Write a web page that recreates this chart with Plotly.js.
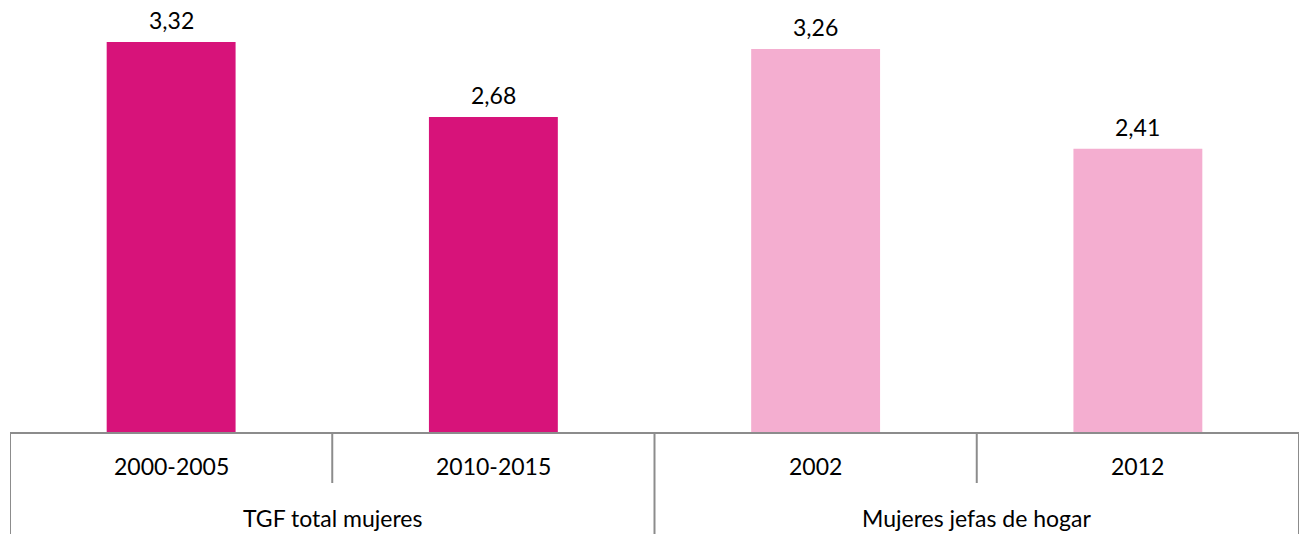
<!DOCTYPE html>
<html>
<head>
<meta charset="utf-8">
<script src="https://cdn.plot.ly/plotly-3.0.1.min.js"></script>
<style>html,body{margin:0;padding:0;background:#fff;}#chart{width:1305px;height:534px;}</style>
</head>
<body>
<div id="chart"></div>
<script>
const categories = ['2000-2005', '2010-2015', '2002', '2012'];
const values = [3.32, 2.68, 3.26, 2.41];
const groups = ['TGF total mujeres', 'TGF total mujeres', 'Mujeres jefas de hogar', 'Mujeres jefas de hogar'];
const groupLabels = ['TGF total mujeres', 'Mujeres jefas de hogar'];

const groupColors = {'TGF total mujeres': '#D7137A', 'Mujeres jefas de hogar': '#F4AED0'};
const FONT = 'Lato, "Open Sans", sans-serif';
const plotH = 432;
const toPaper = py => -(py - plotH) / plotH; // pixel y -> paper y

const trace = {
  type: 'bar',
  x: categories,
  y: values,
  width: 0.4,
  marker: {color: groups.map(g => groupColors[g])},
  hoverinfo: 'x+y',
  showlegend: false
};

const annotations = [];
categories.forEach((c, i) => {
  annotations.push({
    x: i, y: values[i], xref: 'x', yref: 'y',
    text: values[i].toFixed(2).replace('.', ','),
    showarrow: false, yanchor: 'middle', yshift: 22,
    font: {family: FONT, size: 23, color: '#000'}
  });
  annotations.push({
    x: i, y: toPaper(466), xref: 'x', yref: 'paper',
    text: c, showarrow: false, yanchor: 'middle',
    font: {family: FONT, size: 23, color: '#000'}
  });
});
groupLabels.forEach((g, gi) => {
  annotations.push({
    x: 0.5 + gi * 2, y: toPaper(518), xref: 'x', yref: 'paper',
    text: g, showarrow: false, yanchor: 'middle',
    font: {family: FONT, size: 23, color: '#000'}
  });
});

const lineStyle = {color: '#8c8c8c', width: 2};
const shapes = [];
[-0.5, 1.5, 3.5].forEach(x => shapes.push({type: 'line', xref: 'x', yref: 'paper', x0: x, x1: x, y0: 0, y1: toPaper(540), line: lineStyle}));
[0.5, 2.5].forEach(x => shapes.push({type: 'line', xref: 'x', yref: 'paper', x0: x, x1: x, y0: 0, y1: toPaper(483), line: lineStyle}));

const layout = {
  width: 1305, height: 534,
  margin: {l: 10, r: 6, t: 0, b: 534 - plotH},
  paper_bgcolor: '#fff', plot_bgcolor: '#fff',
  font: {family: FONT, size: 23, color: '#000'},
  xaxis: {
    type: 'category', range: [-0.5, 3.5],
    showline: true, linecolor: '#8c8c8c', linewidth: 2,
    showticklabels: false, ticks: '', showgrid: false, zeroline: false, fixedrange: true
  },
  yaxis: {
    range: [0, plotH / 117.5], visible: false, showgrid: false, zeroline: false, fixedrange: true
  },
  annotations: annotations,
  shapes: shapes
};

Plotly.newPlot('chart', [trace], layout, {displayModeBar: false, staticPlot: true});
</script>
</body>
</html>
